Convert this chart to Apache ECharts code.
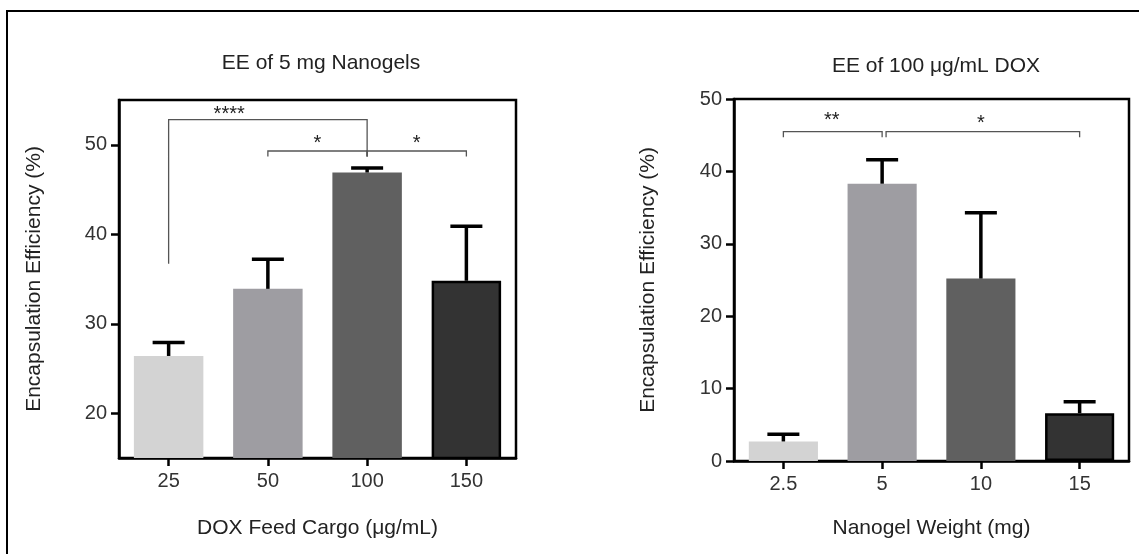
<!DOCTYPE html>
<html>
<head>
<meta charset="utf-8">
<script src="https://cdn.jsdelivr.net/npm/echarts@6/dist/echarts.min.js"></script>
<style>
html, body { margin: 0; padding: 0; background: #fff; }
#chart { width: 1139px; height: 554px; }
</style>
</head>
<body>
<div id="chart"></div>
<script>
// left panel : EE of 5 mg Nanogels
let leftCategories = ['25', '50', '100', '150'];
let leftMeans = [26.4, 33.9, 46.9, 34.8];
let leftUpper = [27.9, 37.2, 47.4, 40.9];
let leftTicks = [20, 30, 40, 50];
// right panel : EE of 100 ug/mL DOX
let rightCategories = ['2.5', '5', '10', '15'];
let rightMeans = [2.7, 38.3, 25.2, 6.6];
let rightUpper = [3.7, 41.6, 34.3, 8.2];

// brackets : [from index, to index, line value, left leg bottom, right leg bottom]
let leftBrackets = [[0, 2, 52.8, 36.7, 48.7], [1, 2, 49.3, 48.7, 48.7], [2, 3, 49.3, 48.7, 48.7]];
let rightBrackets = [[0, 1, 45.5, 44.7, 44.7], [1.04, 3, 45.5, 44.7, 44.7]];
// stars : [text, index, value]
let leftStars = [['****', 0.61, 53.4], ['*', 1.5, 50.1], ['*', 2.5, 50.1]];
let rightStars = [['**', 0.49, 47.0], ['*', 2.0, 46.6]];

let barColors = ['#d3d3d3', '#9e9da2', '#606060', '#333333'];
let font = '"Liberation Sans", Arial, sans-serif';

window.onload = function () {
  var myChart = echarts.init(document.getElementById('chart'));

  function barData(vals) {
    return vals.map(function (v, i) {
      var it = { value: v, itemStyle: { color: barColors[i] } };
      if (i == 3) { it.itemStyle.borderColor = '#000'; it.itemStyle.borderWidth = 2.5; }
      return it;
    });
  }

  function errorSeries(idx, means, upper) {
    return {
      type: 'custom', xAxisIndex: idx, yAxisIndex: idx, z: 5,
      data: means.map(function (m, i) { return [i, m, upper[i]]; }),
      renderItem: function (params, api) {
        var p0 = api.coord([api.value(0), api.value(1)]);
        var p1 = api.coord([api.value(0), api.value(2)]);
        var st = { stroke: '#000', lineWidth: 3.5 };
        return { type: 'group', children: [
          { type: 'line', shape: { x1: p0[0], y1: p0[1], x2: p1[0], y2: p1[1] }, style: st },
          { type: 'line', shape: { x1: p1[0] - 16, y1: p1[1], x2: p1[0] + 16, y2: p1[1] }, style: st }
        ] };
      }
    };
  }

  function bracketSeries(idx, brackets) {
    return {
      type: 'custom', xAxisIndex: idx, yAxisIndex: idx, z: 6,
      data: brackets.map(function (b) { return [Math.round(b[0]), b[2]]; }),
      renderItem: function (params, api) {
        var b = brackets[params.dataIndex];
        var band = api.size([1, 0])[0];
        var x0 = api.coord([0, 0])[0];
        var xa = x0 + b[0] * band, xb = x0 + b[1] * band;
        var y = api.coord([0, b[2]])[1];
        var ya = api.coord([0, b[3]])[1], yb = api.coord([0, b[4]])[1];
        return { type: 'polyline', shape: { points: [[xa, ya], [xa, y], [xb, y], [xb, yb]] },
          style: { stroke: '#555', lineWidth: 1.3, fill: null } };
      }
    };
  }

  function starSeries(idx, stars) {
    return {
      type: 'custom', xAxisIndex: idx, yAxisIndex: idx, z: 7,
      data: stars.map(function (s) { return [Math.round(s[1]), s[2]]; }),
      renderItem: function (params, api) {
        var s = stars[params.dataIndex];
        var band = api.size([1, 0])[0];
        var x = api.coord([0, 0])[0] + s[1] * band;
        var y = api.coord([0, s[2]])[1];
        return { type: 'text', x: x, y: y,
          style: { text: s[0], fill: '#222', font: '20px ' + font, align: 'center', verticalAlign: 'middle' } };
      }
    };
  }

  var axisText = { color: '#333', fontSize: 20, fontFamily: font };
  var nameText = { color: '#222', fontSize: 21, fontFamily: font };
  var blackLine = { show: true, lineStyle: { color: '#000', width: 2.5 } };
  var blackTick = { show: true, inside: false, length: 8, lineStyle: { color: '#000', width: 2.5 } };

  var option = {
    animation: false,
    title: [
      { text: 'EE of 5 mg Nanogels', left: 316, top: 48, textAlign: 'center',
        textStyle: { color: '#222', fontSize: 21, fontWeight: 'normal', fontFamily: font } },
      { text: 'EE of 100 μg/mL DOX', left: 931, top: 51, textAlign: 'center',
        textStyle: { color: '#222', fontSize: 21, fontWeight: 'normal', fontFamily: font } }
    ],
    grid: [
      { left: 119, top: 100, width: 397, height: 358, containLabel: false, show: true, borderColor: '#000', borderWidth: 2.5 },
      { left: 734, top: 99, width: 395, height: 362, containLabel: false, show: true, borderColor: '#000', borderWidth: 2.5 }
    ],
    xAxis: [
      { type: 'category', gridIndex: 0, data: leftCategories, axisLine: blackLine, axisTick: Object.assign({ alignWithLabel: true }, blackTick),
        axisLabel: Object.assign({ margin: 13 }, axisText), name: 'DOX Feed Cargo (μg/mL)', nameLocation: 'middle', nameGap: 60, nameTextStyle: nameText },
      { type: 'category', gridIndex: 1, data: rightCategories, axisLine: blackLine, axisTick: Object.assign({ alignWithLabel: true }, blackTick),
        axisLabel: Object.assign({ margin: 13 }, axisText), name: 'Nanogel Weight (mg)', nameLocation: 'middle', nameGap: 57, nameTextStyle: nameText }
    ],
    yAxis: [
      { type: 'value', gridIndex: 0, min: 15, max: 55, splitLine: { show: false }, axisLine: blackLine,
        axisTick: Object.assign({ customValues: leftTicks }, blackTick),
        axisLabel: Object.assign({ customValues: leftTicks, margin: 12 }, axisText),
        name: 'Encapsulation Efficiency (%)', nameLocation: 'middle', nameGap: 74, nameTextStyle: nameText },
      { type: 'value', gridIndex: 1, min: 0, max: 50, interval: 10, splitLine: { show: false }, axisLine: blackLine,
        axisTick: blackTick, axisLabel: Object.assign({ margin: 12 }, axisText),
        name: 'Encapsulation Efficiency (%)', nameLocation: 'middle', nameGap: 75, nameTextStyle: nameText }
    ],
    graphic: [
      { type: 'polyline', shape: { points: [[7, 554], [7, 11], [1139, 11]] }, style: { stroke: '#000', lineWidth: 2, fill: null } }
    ],
    series: [
      { type: 'bar', xAxisIndex: 0, yAxisIndex: 0, barWidth: '70%', data: barData(leftMeans) },
      { type: 'bar', xAxisIndex: 1, yAxisIndex: 1, barWidth: '70%', data: barData(rightMeans) },
      errorSeries(0, leftMeans, leftUpper),
      errorSeries(1, rightMeans, rightUpper),
      bracketSeries(0, leftBrackets),
      bracketSeries(1, rightBrackets),
      starSeries(0, leftStars),
      starSeries(1, rightStars)
    ]
  };
  myChart.setOption(option);
};
</script>
</body>
</html>
